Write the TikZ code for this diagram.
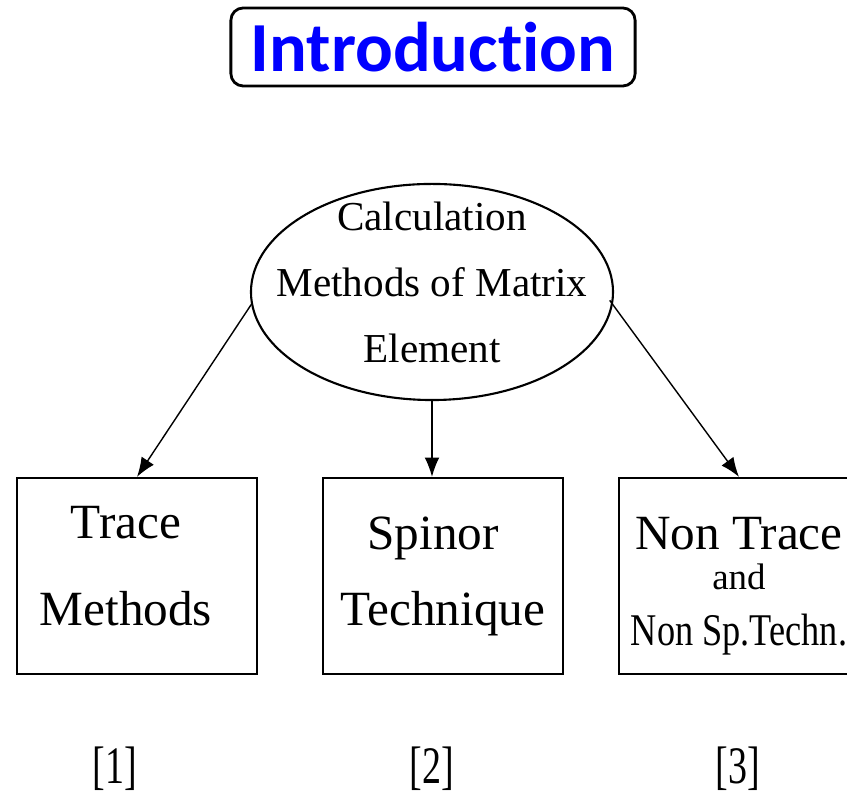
\documentclass[tikz,border=0pt]{standalone}
\usepackage{fontspec}
\setmainfont{Liberation Serif}
\newfontfamily\titlefont[Ligatures={NoCommon,NoContextual}]{Carlito}
\usepackage{graphicx}
\usetikzlibrary{shapes.geometric}
\usetikzlibrary{arrows.meta}
\newcommand{\lowpad}{\rule[-5.7pt]{0pt}{0pt}} % Text nach oben
\newcommand{\toppad}{\rule{0pt}{15pt}}        % Text nach unten
\tikzset{
  titlebox/.style={draw, thick, rounded corners=3.5pt, minimum width=4.04cm,
    minimum height=0.78cm, inner sep=0pt, text=blue,
    font=\titlefont\bfseries\fontsize{20}{24}\selectfont}, % Ueberschrift
  topic/.style={draw, semithick, ellipse, inner xsep=-0.274cm, inner ysep=-0.14cm,
    align=center, font=\fontsize{11.7}{18.8}\selectfont}, % Oberbegriff
  method/.style={draw, semithick, minimum width=2.40cm, minimum height=1.96cm,
    inner sep=0pt, align=center}, % Kaesten
  reftag/.style={anchor=base, font=\fontsize{15}{18}\selectfont} % Literatur
}

\begin{document}
\begin{tikzpicture}[
x=0.01cm, y=-0.01cm,
>={Latex[length=5.5pt,width=4.2pt]} % Pfeilspitzen
]
\useasboundingbox (0,0) rectangle (847,795);
\clip (0,0) rectangle (847,795);

%Ueberschrift
\node[titlebox] (title) at (433,47) {Introduction};

%Oberbegriff
\node[topic] (calc) at (432,292) {Calculation\\ Methods of Matrix\\ Element\lowpad};

%Methoden
\node[method, font=\fontsize{14}{24.7}\selectfont] (trace) at (137,576)
  {Trace\hspace*{0.22cm}\\ Methods\hspace*{0.22cm}\lowpad};
\node[method, font=\fontsize{14}{21.6}\selectfont] (spinor) at (443,576)
  {Spinor\hspace*{0.2cm}\\ Technique};
\node[method, font=\fontsize{14}{11.4}\selectfont] (nontrace) at (739,576)
  {\toppad Non Trace\\ {\fontsize{10.5}{11.4}\selectfont and}\hspace*{0.2cm}\\[4.3pt]
   {\fontsize{12.9}{11.4}\selectfont\scalebox{0.8}[1]{Non Sp.Techn.}}};

%Literatur
\node[reftag] (ref1) at (115,784) {\scalebox{0.72}[1]{[1]}};
\node[reftag] (ref2) at (432,784) {\scalebox{0.72}[1]{[2]}};
\node[reftag] (ref3) at (738,784) {\scalebox{0.72}[1]{[3]}};

%Pfeile
\draw[->] (calc.184) -- (trace.north);
\draw[->] (calc.south) -- (calc.south |- spinor.north);
\draw[->, shorten <=-1.5pt] (calc.-4) -- (nontrace.north);

\end{tikzpicture}
\end{document}
